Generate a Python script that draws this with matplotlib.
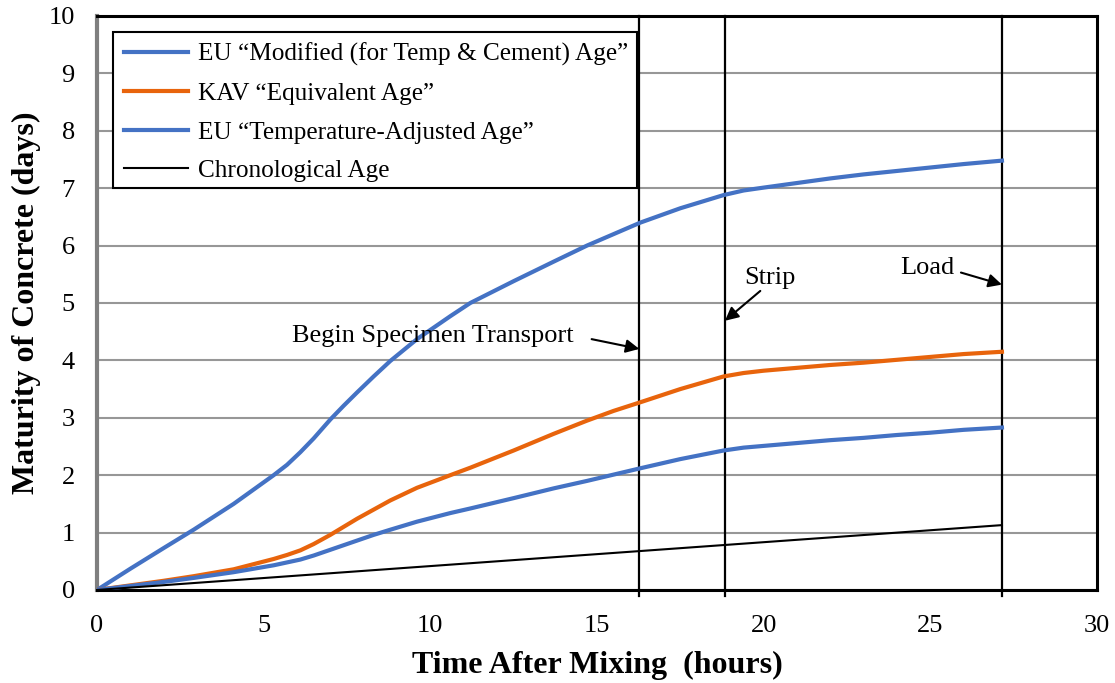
import matplotlib
matplotlib.use("Agg")
import matplotlib.pyplot as plt
from matplotlib.patches import Rectangle

plt.rcParams["font.family"] = ["Liberation Serif", "DejaVu Serif"]

# Elapsed time after mixing (hours) at which the maturity curves are sampled
hours = [0, 1, 2, 2.9, 4.1, 5.3, 5.7, 6.1, 6.5, 7.0, 7.4, 7.8, 8.3, 8.8, 9.6, 10.6,
         11.2, 12.5, 13.7, 14.7, 15.5, 16.3, 17.5, 18.8, 19.4, 20, 21, 22, 23, 24,
         25, 26, 27.15]

# Maturity (days) for each method
eu_modified = [0, 0.37, 0.73, 1.05, 1.5, 2.0, 2.18, 2.4, 2.64, 2.97, 3.21, 3.44,
               3.72, 3.99, 4.37, 4.77, 5.0, 5.38, 5.72, 6.0, 6.2, 6.4, 6.65, 6.88,
               6.96, 7.01, 7.09, 7.17, 7.24, 7.3, 7.36, 7.42, 7.48]
kav_equivalent = [0, 0.08, 0.16, 0.24, 0.36, 0.54, 0.61, 0.69, 0.8, 0.96, 1.1,
                  1.24, 1.4, 1.56, 1.78, 2.0, 2.13, 2.43, 2.72, 2.95, 3.12, 3.27,
                  3.5, 3.72, 3.78, 3.82, 3.87, 3.92, 3.96, 4.01, 4.06, 4.11, 4.15]
eu_temp_adjusted = [0, 0.07, 0.14, 0.21, 0.31, 0.43, 0.48, 0.53, 0.6, 0.7, 0.78,
                    0.86, 0.96, 1.05, 1.19, 1.34, 1.42, 1.6, 1.77, 1.9, 2.01, 2.12,
                    2.28, 2.43, 2.48, 2.51, 2.56, 2.61, 2.65, 2.7, 2.74, 2.79, 2.83]
chrono_hours = [0, 27.15]
chrono_days = [0, 1.13]

series_labels = ["EU \u201cModified (for Temp & Cement) Age\u201d",
                 "KAV \u201cEquivalent Age\u201d",
                 "EU \u201cTemperature-Adjusted Age\u201d",
                 "Chronological Age"]

# Key events (hours) and their labels
event_hours = [16.27, 18.84, 27.15]
event_labels = ["Begin Specimen Transport", "Strip", "Load"]

x_ticks = [0, 5, 10, 15, 20, 25, 30]
y_ticks = list(range(0, 11))

BLUE = "#4472C4"
ORANGE = "#E8640C"
TXT = 19

fig = plt.figure(figsize=(11.15, 6.83), dpi=100)
ax = fig.add_axes([0.087, 0.1362, 0.8968, 0.8404])

ax.set_xlim(0, 30)
ax.set_ylim(0, 10)
ax.set_xticks(x_ticks)
ax.set_yticks(y_ticks)
ax.yaxis.grid(True, color="#979797", linewidth=1.5)
ax.set_axisbelow(True)

for h in event_hours:
    ax.plot([h, h], [-0.1, 10], color="black", linewidth=1.6, clip_on=False, zorder=2)

l1, = ax.plot(hours, eu_modified, color=BLUE, linewidth=3, zorder=3,
              solid_joinstyle="round")
l2, = ax.plot(hours, kav_equivalent, color=ORANGE, linewidth=3, zorder=3,
              solid_joinstyle="round")
l3, = ax.plot(hours, eu_temp_adjusted, color=BLUE, linewidth=3, zorder=3,
              solid_joinstyle="round")
l4, = ax.plot(chrono_hours, chrono_days, color="black", linewidth=1.5, zorder=3)

# Legend box drawn separately so its right edge hugs the longest entry
ax.add_patch(Rectangle((0.016, 0.700), 0.524, 0.272, transform=ax.transAxes,
                       facecolor="white", edgecolor="black", linewidth=1.5, zorder=4))
leg = ax.legend([l1, l2, l3, l4], series_labels, loc="upper left",
                bbox_to_anchor=(0.016, 0.972), fontsize=18.2, frameon=False,
                handlelength=2.55, handletextpad=0.4, labelspacing=0.63,
                borderpad=0.43, borderaxespad=0)
leg.set_zorder(5)

arrow = dict(arrowstyle="-|>", color="black", lw=1.5, mutation_scale=20,
             shrinkA=0, shrinkB=0)
ax.annotate("", xy=(event_hours[0], 4.2), xytext=(14.84, 4.37), arrowprops=arrow)
ax.text(10.08, 4.42, event_labels[0], fontsize=TXT, ha="center", va="center")
ax.annotate("", xy=(event_hours[1], 4.69), xytext=(19.9, 5.21), arrowprops=arrow)
ax.text(20.2, 5.43, event_labels[1], fontsize=TXT, ha="center", va="center")
ax.annotate("", xy=(event_hours[2], 5.32), xytext=(25.92, 5.53), arrowprops=arrow)
ax.text(24.9, 5.61, event_labels[2], fontsize=TXT, ha="center", va="center")

for side in ["top", "right", "bottom"]:
    ax.spines[side].set_color("black")
    ax.spines[side].set_linewidth(2.2)
ax.spines["left"].set_color("#7f7f7f")
ax.spines["left"].set_linewidth(3)

ax.tick_params(axis="both", length=0, labelsize=TXT)
ax.tick_params(axis="x", pad=18)
ax.tick_params(axis="y", pad=16)

ax.set_xlabel("Time After Mixing  (hours)", fontsize=23, fontweight="bold", labelpad=10)
ax.set_ylabel("Maturity of Concrete (days)", fontsize=23, fontweight="bold", labelpad=5)

fig.savefig("out.png", dpi=100)
